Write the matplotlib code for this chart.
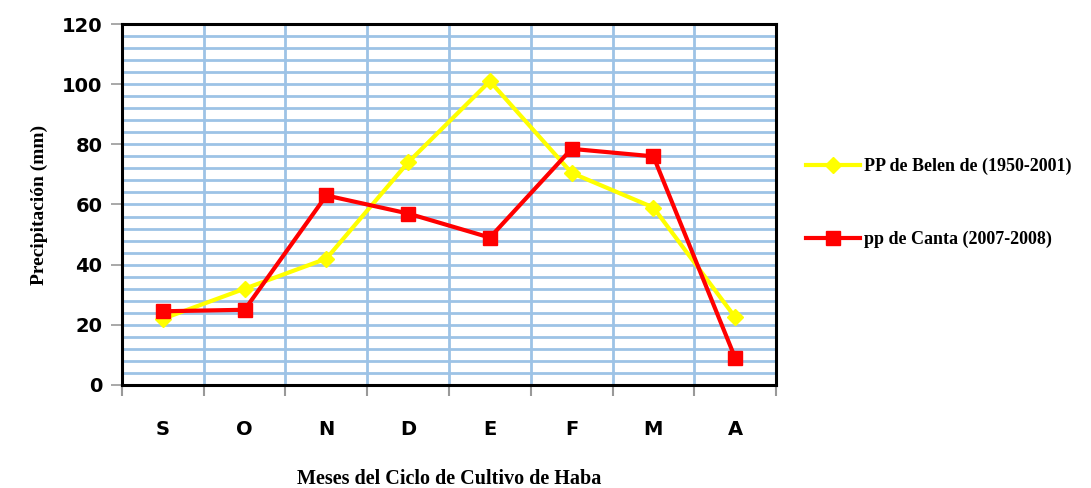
import numpy as np
import matplotlib
matplotlib.use("Agg")
import matplotlib.pyplot as plt
from matplotlib.ticker import MultipleLocator

# data
listMonths = ["S", "O", "N", "D", "E", "F", "M", "A"]
listBelen = [22, 32, 42, 74, 101, 70.5, 59, 22.5]
listCanta = [24.5, 25, 63, 57, 49, 78.5, 76, 9]
strBelen = "PP de Belen de (1950-2001)"
strCanta = "pp de Canta (2007-2008)"

fig = plt.figure(figsize=(10.91, 4.88), dpi=100)
ax = fig.add_axes([0.1118, 0.2111, 0.5995, 0.7397])

x = np.arange(len(listMonths))
ax.plot(x, listBelen, color="#FFFF00", lw=3, marker="D", ms=8, label=strBelen)
ax.plot(x, listCanta, color="#FF0000", lw=3, marker="s", ms=10, label=strCanta)

ax.set_xlim(-0.5, len(listMonths) - 0.5)
ax.set_ylim(0, 120)
ax.yaxis.set_major_locator(MultipleLocator(20))
ax.yaxis.set_minor_locator(MultipleLocator(4))
ax.set_xticks(x)
ax.set_xticklabels(listMonths)
ax.set_xticks(np.arange(-0.5, len(listMonths), 1.0), minor=True)

ax.grid(which="minor", color="#9DC3E6", lw=2)
ax.grid(which="major", axis="y", color="#9DC3E6", lw=2)
ax.set_axisbelow(True)

for s in ax.spines.values():
    s.set_linewidth(2.2)
    s.set_color("black")

ax.tick_params(axis="x", which="major", length=0, pad=25)
ax.tick_params(axis="x", which="minor", length=8, width=1.5, color="#999999", direction="out")
ax.tick_params(axis="y", which="major", length=8, width=1.2, color="#999999", pad=6)
ax.tick_params(axis="y", which="minor", length=0)
for lbl in ax.get_xticklabels() + ax.get_yticklabels():
    lbl.set_fontfamily("DejaVu Sans")
    lbl.set_fontweight("bold")
    lbl.set_fontsize(14)

ax.set_xlabel("Meses del Ciclo de Cultivo de Haba", family="Liberation Serif",
              fontweight="bold", fontsize=14.5, labelpad=22)
ax.set_ylabel("Precipitación (mm)", family="Liberation Serif",
              fontweight="bold", fontsize=14, labelpad=10)

ax.legend(loc="center left", bbox_to_anchor=(0.724, 0.584), bbox_transform=fig.transFigure,
          frameon=False, prop={"family": "Liberation Serif", "weight": "bold", "size": 13},
          handlelength=3.0, labelspacing=3.1, handletextpad=0.2)

fig.savefig("out.png", dpi=100)
